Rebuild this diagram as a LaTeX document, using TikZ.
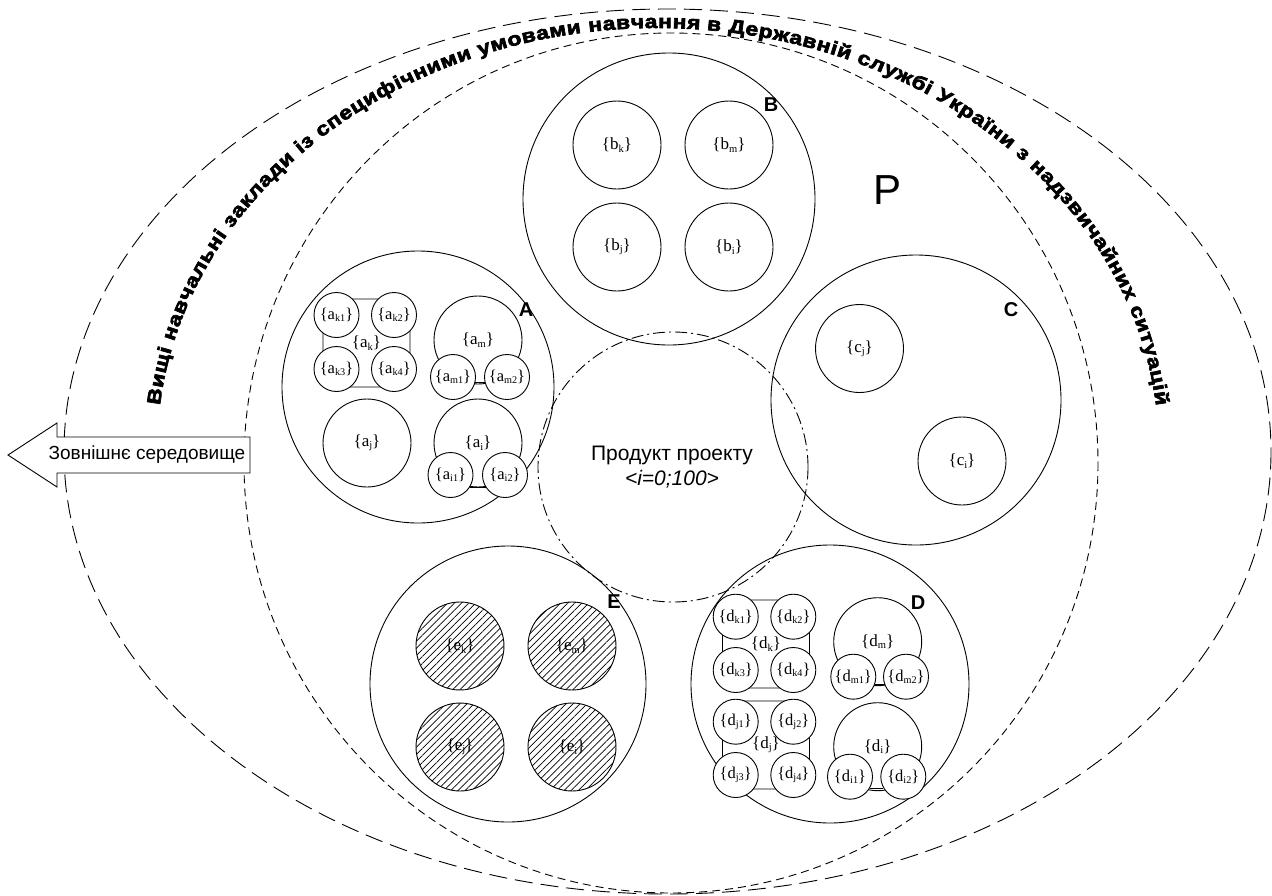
\documentclass[tikz,border=0pt]{standalone}
\usepackage{fontspec}
\setmainfont{Liberation Serif}
\newfontfamily\arialf{Liberation Sans}
\newfontfamily\heavyf{Liberation Sans}[BoldFeatures={FakeBold=3.5,FakeStretch=1.2}]
\usetikzlibrary{decorations.text,patterns.meta}
\newcommand{\lbl}[2]{\{#1\raisebox{-0.3ex}{\scalebox{0.62}{#2}}\}}
\begin{document}
\begin{tikzpicture}[x=1pt,y=-1pt,line width=0.9pt,
  bigc/.style={circle,draw,minimum size=#1,inner sep=0pt},
  subc/.style={circle,draw,fill=white,minimum size=88pt,inner sep=0pt,font=\fontsize{17}{17}\selectfont},
  tinyc/.style={circle,draw,fill=white,minimum size=45pt,inner sep=0pt,font=\fontsize{16.5}{16.5}\selectfont},
  hatchc/.style={circle,draw,minimum size=88pt,inner sep=0pt,font=\fontsize{17}{17}\selectfont,
     pattern={Lines[angle=45,distance=5pt,line width=0.7pt]}},
  sq/.style={rectangle,draw,rounded corners=14pt,minimum width=87pt,minimum height=88pt,inner sep=0pt,font=\fontsize{17}{17}\selectfont},
  lettr/.style={font=\arialf\bfseries\fontsize{20}{20}\selectfont,inner sep=0pt},
  outerdash/.style={dash pattern=on 18pt off 8pt},
  innerdash/.style={dash pattern=on 8pt off 5pt},
  dashdot/.style={dash pattern=on 12pt off 4pt on 2pt off 4pt}]
\useasboundingbox (0,0) rectangle (1272,895);

% environment ellipses
\draw[outerdash] (667.5,451.5) ellipse[x radius=603.5,y radius=442.5];
\draw[innerdash] (671,463) ellipse[x radius=427,y radius=430];

% curved title
\path[decorate,decoration={text along path,text align=fit to path,
  text={|\heavyf\bfseries\fontsize{19}{19}\selectfont|Вищі навчальні заклади із специфічними умовами навчання в Державній службі України з надзвичайних ситуацій}}]
  (658,451) ++(186.2:501 and 423) arc[start angle=186.2,end angle=353.8,x radius=501,y radius=423];

% external environment arrow
\draw[fill=white] (250,437) -- (57,437) -- (57,423) -- (8,455) -- (57,487) -- (57,473) -- (250,473) -- cycle;
\node[font=\arialf\fontsize{19}{19}\selectfont,inner sep=0pt] (env) at (147,455) {Зовнішнє середовище};

\node[font=\arialf\fontsize{42}{42}\selectfont,inner sep=0pt] (P) at (887,190) {P};

% main circles
\node[bigc=292pt] (B) at (669,199) {};
\node[bigc=272pt] (A) at (418,387) {};
\node[bigc=290pt] (C) at (916,400) {};
\node[bigc=278pt] (D) at (830,684) {};
\node[bigc=276pt] (E) at (508,684) {};
\node[bigc=270pt,dashdot] (prod) at (673,467) {};
\node[font=\arialf\fontsize{21}{21}\selectfont,inner sep=0pt] (prodt) at (672,455) {Продукт проекту};
\node[font=\arialf\itshape\fontsize{21}{21}\selectfont,inner sep=0pt] (prodi) at (672,479) {\textless i=0;100\textgreater};

\node[lettr] (Al) at (526,310) {A};
\node[lettr] (Bl) at (771,105) {B};
\node[lettr] (Cl) at (1011,310) {C};
\node[lettr] (Dl) at (918,603) {D};
\node[lettr] (El) at (614,602) {E};

% B
\node[subc] (bk) at (617,145) {\lbl{b}{k}};
\node[subc] (bm) at (729,145) {\lbl{b}{m}};
\node[subc] (bj) at (617,247) {\lbl{b}{j}};
\node[subc] (bi) at (729,247) {\lbl{b}{i}};

% C
\node[subc] (cj) at (859.5,348.5) {\lbl{c}{j}};
\node[subc] (ci) at (962,461) {\lbl{c}{i}};

% E
\node[hatchc] (ek) at (460,646) {\lbl{e}{k}};
\node[hatchc] (em) at (572,646) {\lbl{e}{m}};
\node[hatchc] (ej) at (460,747) {\lbl{e}{j}};
\node[hatchc] (ei) at (572,747) {\lbl{e}{i}};

% A
\node[sq] (ak) at (366.5,343) {\lbl{a}{k}};
\node[tinyc] (ak1) at (336.5,315) {\lbl{a}{k1}};
\node[tinyc] (ak2) at (394,315) {\lbl{a}{k2}};
\node[tinyc] (ak3) at (336.5,369) {\lbl{a}{k3}};
\node[tinyc] (ak4) at (394,369) {\lbl{a}{k4}};
\node[subc] (am) at (478,340) {\lbl{a}{m}};
\node[tinyc] (am1) at (453,377) {\lbl{a}{m1}};
\node[tinyc] (am2) at (507,377) {\lbl{a}{m2}};
\draw (am1.-15) -- (am2.195);
\node[subc] (aj) at (367,443) {\lbl{a}{j}};
\node[subc] (ai) at (478,443) {\lbl{a}{i}};
\node[tinyc] (ai1) at (450.5,475) {\lbl{a}{i1}};
\node[tinyc] (ai2) at (505,475) {\lbl{a}{i2}};
\draw (ai1.-34) -- (ai2.214);

% D
\node[sq] (dk) at (766,644) {\lbl{d}{k}};
\node[tinyc] (dk1) at (735.7,616.7) {\lbl{d}{k1}};
\node[tinyc] (dk2) at (793.3,616.7) {\lbl{d}{k2}};
\node[tinyc] (dk3) at (735.7,670) {\lbl{d}{k3}};
\node[tinyc] (dk4) at (793.3,670) {\lbl{d}{k4}};
\node[sq] (dj) at (766,745) {\lbl{d}{j}};
\node[tinyc] (dj1) at (735.7,721.7) {\lbl{d}{j1}};
\node[tinyc] (dj2) at (793.3,721.7) {\lbl{d}{j2}};
\node[tinyc] (dj3) at (735.7,775) {\lbl{d}{j3}};
\node[tinyc] (dj4) at (793.3,775) {\lbl{d}{j4}};
\node[subc] (dm) at (877.7,641.7) {\lbl{d}{m}};
\node[tinyc] (dm1) at (853.3,676.7) {\lbl{d}{m1}};
\node[tinyc] (dm2) at (906,676.7) {\lbl{d}{m2}};
\draw (dm1.-21) -- (dm2.201);
\node[subc] (di) at (877.7,746.7) {\lbl{d}{i}};
\node[tinyc] (di1) at (850,776.7) {\lbl{d}{i1}};
\node[tinyc] (di2) at (903.3,776.7) {\lbl{d}{i2}};
\draw (di1.-30) -- (di2.210);
\end{tikzpicture}
\end{document}
